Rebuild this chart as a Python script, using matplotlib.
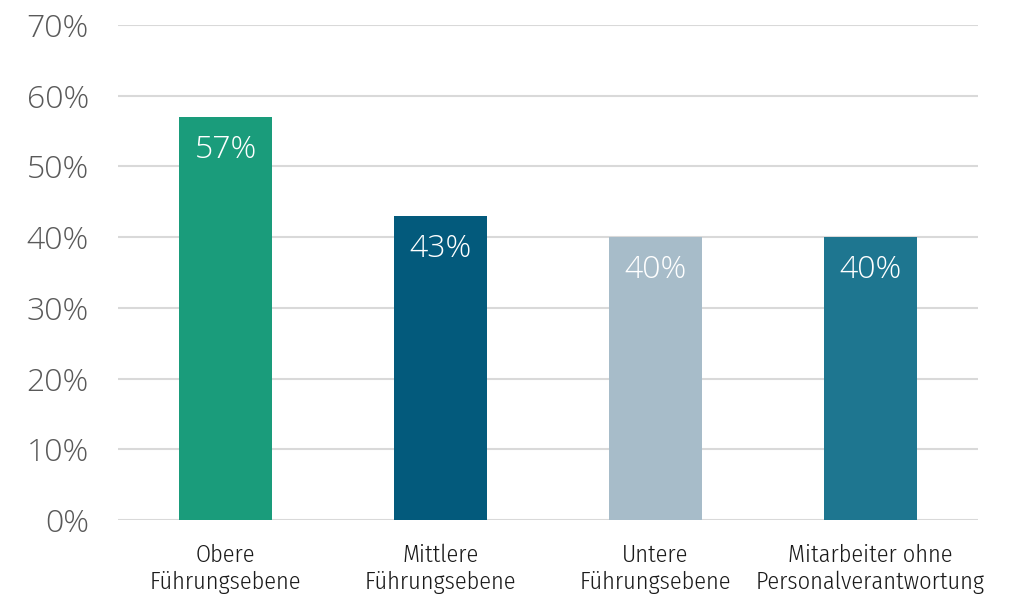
import matplotlib
matplotlib.use("Agg")
import matplotlib.pyplot as plt

categories = ["Obere\nFührungsebene", "Mittlere\nFührungsebene", "Untere\nFührungsebene",
              "Mitarbeiter ohne\nPersonalverantwortung"]
values = [57, 43, 40, 40]
value_labels = ["57%", "43%", "40%", "40%"]
yticks = [0, 10, 20, 30, 40, 50, 60, 70]
ytick_labels = ["0%", "10%", "20%", "30%", "40%", "50%", "60%", "70%"]
colors = ["#1a9c7b", "#035a7c", "#a7bcc9", "#1e7690"]

fig = plt.figure(figsize=(10.18, 5.97), dpi=100)
ax = fig.add_axes([118/1018, 1-520/597, 860/1018, 495/597])

x = [i + 0.5 for i in range(len(values))]
ax.bar(x, values, width=0.433, color=colors, zorder=3)
ax.set_xlim(0, 4)
ax.set_ylim(0, 70)
ax.set_yticks(yticks)
ax.set_yticklabels(ytick_labels, fontfamily="Open Sans", fontweight=300, fontsize=23, color="#595959")
ax.set_xticks(x)
ax.set_xticklabels(categories, fontfamily="Fira Sans Condensed", fontweight=300, fontsize=17.5,
                   color="#1a1a1a", linespacing=1.22)
ax.tick_params(axis="both", length=0)
ax.tick_params(axis="x", pad=17)
ax.tick_params(axis="y", pad=21)
ax.grid(axis="y", color="#d9d9d9", linewidth=1.5, zorder=0)
for s in ax.spines.values():
    s.set_visible(False)

for xi, v, lbl in zip(x, values, value_labels):
    ax.annotate(lbl, (xi, v), xytext=(0, -33), textcoords="offset pixels",
                ha="center", va="center", color="white", fontsize=23, fontweight=300,
                fontfamily="Open Sans", zorder=4)

fig.savefig("out.png", dpi=100)
